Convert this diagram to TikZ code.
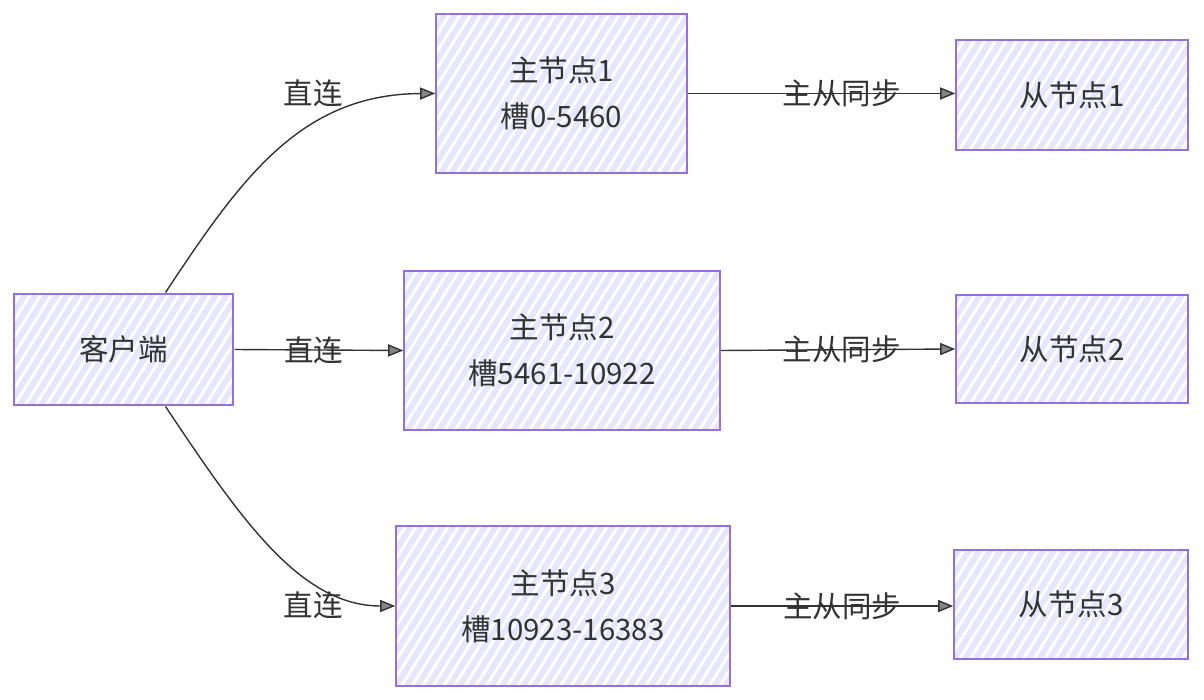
\documentclass[tikz,border=0pt]{standalone}
\usepackage{fontspec}
\setmainfont{Noto Sans CJK SC}
\usetikzlibrary{arrows.meta,patterns.meta}

\definecolor{boxfill}{HTML}{E6E6FC}
\definecolor{boxline}{HTML}{9370DB}
\definecolor{ink}{HTML}{333333}

\tikzset{
  box/.style={rectangle, draw=boxline, line width=1.6pt, text=ink, align=center,
    font=\fontsize{29.5}{46}\selectfont, inner sep=0pt,
    preaction={fill=boxfill},
    pattern={Lines[angle=58, distance=9pt, line width=3pt]}, pattern color=white},
  link/.style={draw=ink, line width=1.4pt, -{Triangle[length=15pt, width=12pt, fill=ink!60]}},
  lbl/.style={text=ink, font=\fontsize{29.5}{36}\selectfont, inner sep=1pt},
}

\begin{document}
\begin{tikzpicture}[x=1pt, y=-1pt]
  \useasboundingbox (0,0) rectangle (1204,700);

  \node (client) [box, minimum width=219pt, minimum height=111pt] at (123.5, 349.5) {客户端};

  \node (master1) [box, minimum width=251pt, minimum height=159pt] at (561.5, 93.5) {主节点1\\槽0-5460};
  \node (master2) [box, minimum width=316pt, minimum height=159pt] at (562, 350.5) {主节点2\\槽5461-10922};
  \node (master3) [box, minimum width=334pt, minimum height=160pt] at (563, 606) {主节点3\\槽10923-16383};

  \node (slave1) [box, minimum width=232pt, minimum height=110pt] at (1072, 95) {从节点1};
  \node (slave2) [box, minimum width=232pt, minimum height=108pt] at (1072, 349) {从节点2};
  \node (slave3) [box, minimum width=234pt, minimum height=109pt] at (1071, 604.5) {从节点3};

  % client to masters
  \draw[link] ([xshift=42pt]client.north) .. controls (240, 180) and (300, 94) .. (master1.west);
  \node (direct1) [lbl] at (313, 93) {直连};
  \draw[link] (client.east) to node[lbl, pos=0.47] (direct2) {直连} (master2.west);
  \draw[link] ([xshift=42pt]client.south) .. controls (240, 518) and (300, 606) .. (master3.west);
  \node (direct3) [lbl] at (313, 605) {直连};

  % masters to slaves
  \draw[link] (master1.east) to node[lbl, pos=0.575] (sync1) {主从同步} (slave1.west |- master1.east);
  \draw[link] (master2.east) to node[lbl, pos=0.515] (sync2) {主从同步} (slave2.west);
  \draw[link] (master3.east) to node[lbl, pos=0.5] (sync3) {主从同步} (slave3.west |- master3.east);
\end{tikzpicture}
\end{document}
